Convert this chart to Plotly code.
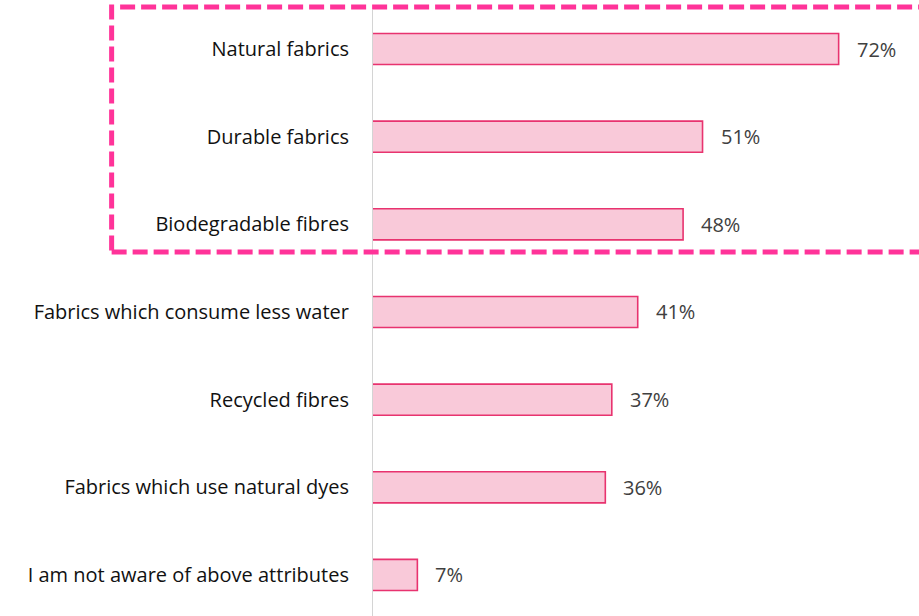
import plotly.graph_objects as go

# Fabric attributes and share of respondents aware of each (%)
categories = [
    "Natural fabrics",
    "Durable fabrics",
    "Biodegradable fibres",
    "Fabrics which consume less water",
    "Recycled fibres",
    "Fabrics which use natural dyes",
    "I am not aware of above attributes",
]
values = [72, 51, 48, 41, 37, 36, 7]
value_labels = [f"{v}%" for v in values]

FILL = "#f9c9d9"
EDGE = "#e8336f"
HIGHLIGHT = "#ff3399"

fig = go.Figure(
    go.Bar(
        x=values,
        y=categories,
        orientation="h",
        width=0.355,
        marker=dict(color=FILL, line=dict(color=EDGE, width=1.6)),
        hoverinfo="skip",
    )
)

# Value labels to the right of each bar
for cat, v, lab in zip(categories, values, value_labels):
    fig.add_annotation(
        x=v, y=cat, text=lab, showarrow=False,
        xanchor="left", yanchor="middle", xshift=16,
        font=dict(family="Open Sans", size=20, color="#404040"),
    )

# Baseline along the category axis
fig.add_shape(
    type="line", xref="x", yref="paper",
    x0=0, x1=0, y0=0, y1=0.984,
    line=dict(color="#d4d4d4", width=2),
)

# Dashed frame around the top three attributes
fig.add_shape(
    type="rect", xref="paper", yref="paper",
    x0=-0.476, x1=1.03, y0=0.591, y1=0.9886,
    line=dict(color=HIGHLIGHT, width=5, dash="15px,6px"),
    fillcolor="rgba(0,0,0,0)",
)

fig.update_layout(
    width=919,
    height=616,
    margin=dict(l=372, r=0, t=0, b=0),
    paper_bgcolor="white",
    plot_bgcolor="white",
    showlegend=False,
    xaxis=dict(
        range=[0, 84.4], visible=False, fixedrange=True,
    ),
    yaxis=dict(
        categoryorder="array",
        categoryarray=categories,
        range=[6.468, -0.559],
        showgrid=False,
        showline=False,
        zeroline=False,
        ticks="",
        ticklabelstandoff=22,
        tickfont=dict(family="Open Sans", size=20, color="#111111"),
    ),
)

fig.write_html("out.html")
